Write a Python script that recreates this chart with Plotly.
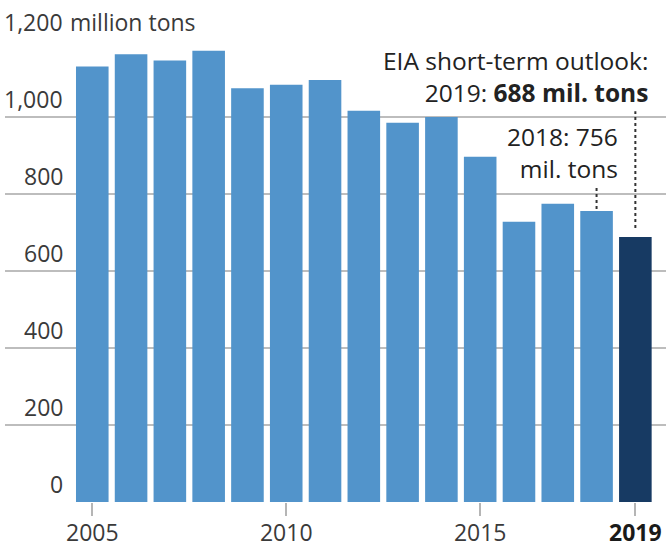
import plotly.graph_objects as go

years = [2005, 2006, 2007, 2008, 2009, 2010, 2011, 2012, 2013, 2014, 2015, 2016, 2017, 2018, 2019]
production = [1131, 1163, 1147, 1172, 1075, 1084, 1096, 1016, 985, 1000, 897, 728, 775, 756, 688]
bar_colors = ["#5294cb"] * 14 + ["#173a63"]

x_tick_vals = [2005, 2010, 2015, 2019]
x_tick_text = ["2005", "2010", "2015", "<b><span style='color:#1a1a1a'>2019</span></b>"]
y_tick_vals = [0, 200, 400, 600, 800, 1000, 1200]
y_tick_text = ["0", "200", "400", "600", "800", "1,000", "1,200"]
y_unit = "million tons"

FONT = "Open Sans"
W, H = 666, 546
ML, MR, MT, MB = 5, 0, 40, 44

fig = go.Figure()
fig.add_trace(go.Bar(
    x=years, y=production, marker=dict(color=bar_colors, line=dict(width=0)),
    width=0.84, hoverinfo="x+y", showlegend=False,
))

# y tick labels, right aligned above grid lines
lab_x = (65 - ML) / (W - ML - MR)
for v, t in zip(y_tick_vals, y_tick_text):
    fig.add_annotation(x=lab_x, xref="paper", y=v, yref="y", text=t, showarrow=False,
                       xanchor="right", yanchor="bottom", yshift=0,
                       font=dict(family=FONT, size=23, color="#3a3a3a"))
fig.add_annotation(x=(68 - ML) / (W - ML - MR), xref="paper", y=y_tick_vals[-1], yref="y",
                   text=y_unit, showarrow=False, xanchor="left", yanchor="bottom",
                   font=dict(family=FONT, size=23, color="#3a3a3a"))

# callouts
fig.add_annotation(x=(650 - ML) / (W - ML - MR), xref="paper", y=1015, yref="y",
                   text="EIA short-term outlook:<br>2019: <b>688 mil. tons</b>",
                   showarrow=False, xanchor="right", yanchor="bottom", align="right",
                   font=dict(family=FONT, size=24.5, color="#222222"))
fig.add_annotation(x=(620 - ML) / (W - ML - MR), xref="paper", y=818, yref="y",
                   text="2018: 756<br>mil. tons",
                   showarrow=False, xanchor="right", yanchor="bottom", align="right",
                   font=dict(family=FONT, size=24.5, color="#222222"))

fig.add_shape(type="line", x0=years[-1], x1=years[-1], y0=production[-1] + 24, y1=1015,
              xref="x", yref="y", line=dict(color="#333333", width=2, dash="dot"))
fig.add_shape(type="line", x0=years[-2], x1=years[-2], y0=production[-2] + 5, y1=818,
              xref="x", yref="y", line=dict(color="#333333", width=2, dash="dot"))

fig.update_layout(
    width=W, height=H,
    margin=dict(l=ML, r=MR, t=MT, b=MB, autoexpand=False),
    paper_bgcolor="white", plot_bgcolor="white",
    font=dict(family=FONT, size=23, color="#3a3a3a"),
    bargap=0.16,
    xaxis=dict(range=[2002.75, 2019.79], tickvals=x_tick_vals, ticktext=x_tick_text,
               ticks="outside", ticklen=13, tickwidth=2, tickcolor="#b5b5b5",
               ticklabelstandoff=-3,
               showgrid=False, zeroline=False, showline=False, automargin=False,
               tickfont=dict(family=FONT, size=23, color="#3a3a3a")),
    yaxis=dict(range=[0, 1200], tickvals=y_tick_vals, showticklabels=False,
               showgrid=True, gridcolor="#bdbdbd", gridwidth=2, zeroline=False,
               showline=False, ticks="", automargin=False),
)

fig.write_html("out.html", config={"displayModeBar": False},
               post_script="document.body.style.margin='0';document.body.style.overflow='hidden';")
